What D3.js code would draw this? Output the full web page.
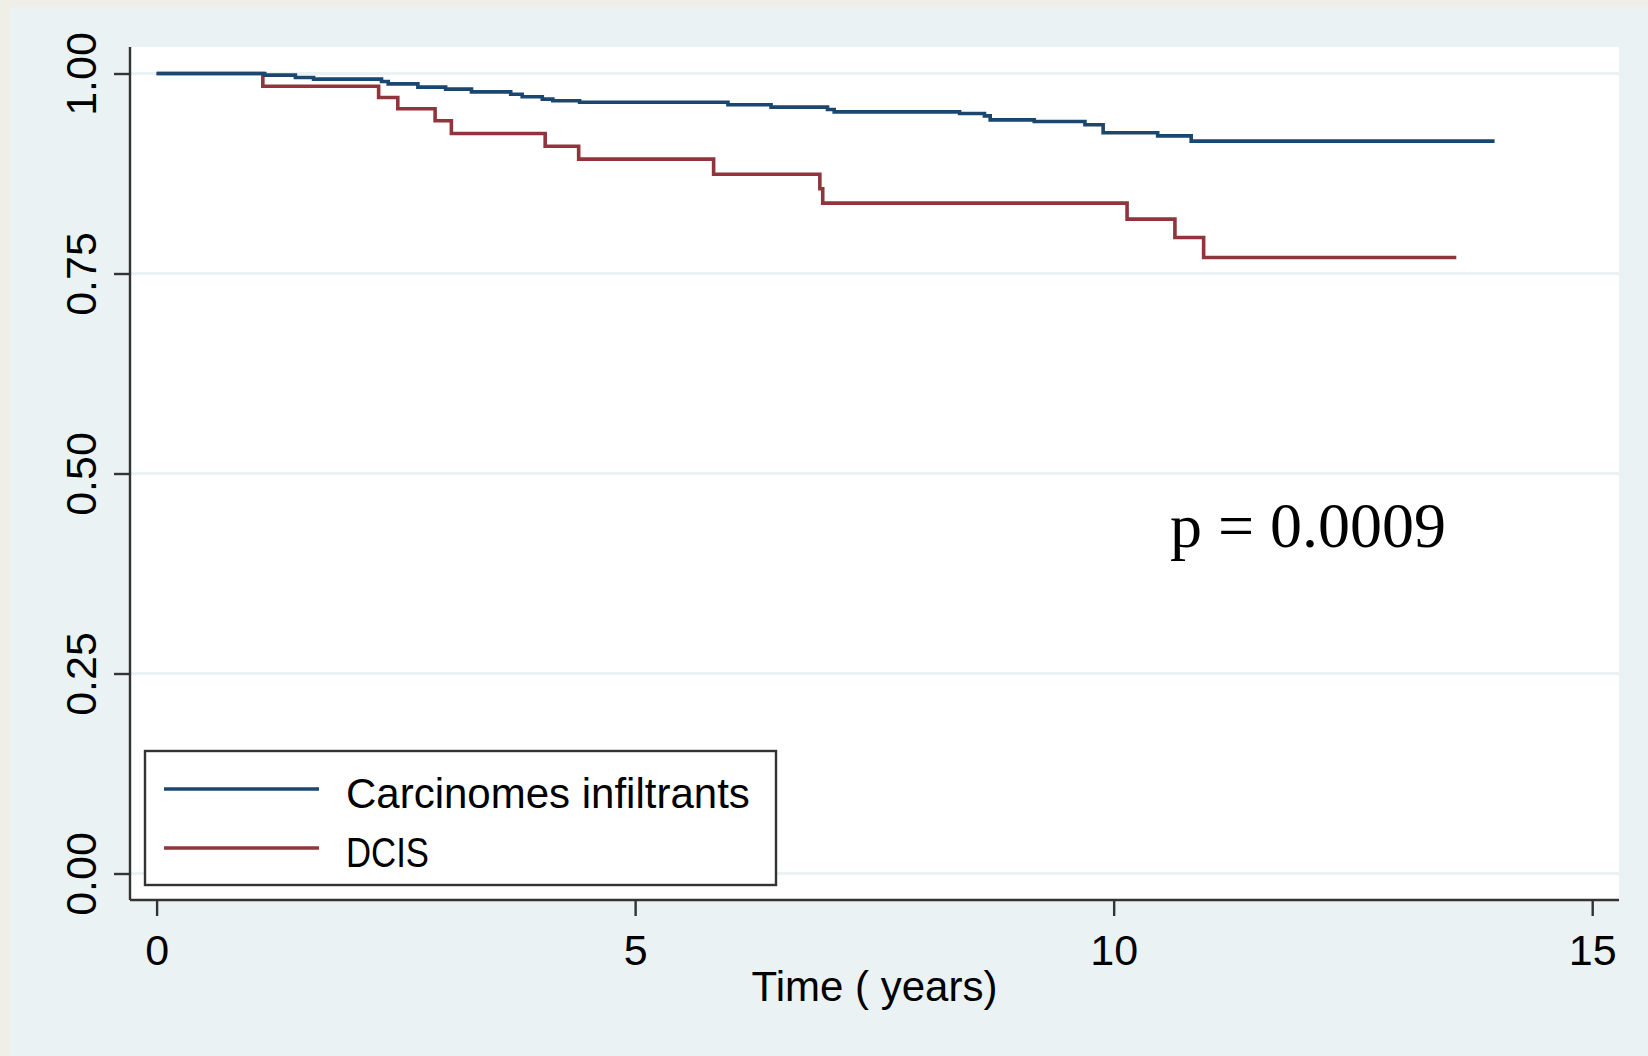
<!DOCTYPE html>
<html>
<head>
<meta charset="utf-8">
<script src="https://cdn.jsdelivr.net/npm/d3@7"></script>
<style>
  html, body { margin: 0; padding: 0; background: #efefe8; }
  svg { display: block; }
  text { font-family: "Liberation Sans", Arial, Helvetica, sans-serif; fill: #000; }
</style>
</head>
<body>
<script>
// Kaplan-Meier survival estimates, time in years
const infiltrantTimes = [0, 1.13, 1.45, 1.64, 2.35, 2.42, 2.73, 3.02, 3.29, 3.70, 3.82, 4.03, 4.14, 4.42,
  5.97, 6.42, 7.01, 7.08, 8.39, 8.65, 8.71, 9.17, 9.70, 9.89, 10.46, 10.81, 13.98];
const infiltrantSurv = [1, 0.998, 0.995, 0.993, 0.990, 0.987, 0.983, 0.9805, 0.977, 0.974, 0.971, 0.968, 0.966, 0.964,
  0.961, 0.958, 0.955, 0.952, 0.950, 0.947, 0.942, 0.940, 0.936, 0.926, 0.922, 0.9155, 0.9155];

const dcisTimes = [0, 1.11, 2.32, 2.52, 2.91, 3.08, 4.06, 4.41, 5.82, 6.93, 6.96, 10.14, 10.64, 10.94, 13.58];
const dcisSurv = [1, 0.984, 0.970, 0.956, 0.941, 0.925, 0.909, 0.893, 0.874, 0.856, 0.838, 0.818, 0.795, 0.770, 0.770];

const seriesNames = ["Carcinomes infiltrants", "DCIS"];
const seriesColors = ["#1a476f", "#90353b"];

const xTicks = [0, 5, 10, 15];
const yTicks = [0, 0.25, 0.5, 0.75, 1];
const xTitle = "Time ( years)";
const pLabel = "p = 0.0009";

const W = 1648, H = 1056;
const plot = { left: 130, right: 1619, top: 47, bottom: 900 };

const svg = d3.select("body").append("svg").attr("width", W).attr("height", H);

// graph region background
svg.append("rect").attr("x", 10).attr("y", 7).attr("width", W - 10).attr("height", H - 7).attr("fill", "#eaf2f3");
// plot region
svg.append("rect").attr("x", plot.left).attr("y", plot.top)
  .attr("width", plot.right - plot.left).attr("height", plot.bottom - plot.top).attr("fill", "#ffffff");

const x = d3.scaleLinear().domain([0, 15]).range([156.6, 1592.2]);
const y = d3.scaleLinear().domain([0, 1]).range([873.5, 73.5]);

// horizontal grid lines
svg.append("g").selectAll("line").data(yTicks).join("line")
  .attr("x1", plot.left).attr("x2", plot.right)
  .attr("y1", d => y(d)).attr("y2", d => y(d))
  .attr("stroke", "#eaf2f3").attr("stroke-width", 3);

// survival curves
const series = [
  { name: seriesNames[0], color: seriesColors[0], pts: infiltrantTimes.map((t, i) => [t, infiltrantSurv[i]]) },
  { name: seriesNames[1], color: seriesColors[1], pts: dcisTimes.map((t, i) => [t, dcisSurv[i]]) }
];
const line = d3.line().x(d => x(d[0])).y(d => y(d[1])).curve(d3.curveStepAfter);
svg.append("g").selectAll("path").data(series.slice().reverse()).join("path")
  .attr("d", d => line(d.pts)).attr("fill", "none")
  .attr("stroke", d => d.color).attr("stroke-width", 3.6).attr("stroke-linejoin", "miter");

// y axis
const yAxis = svg.append("g").attr("transform", `translate(${plot.left},0)`)
  .call(d3.axisLeft(y).tickValues(yTicks).tickSize(16).tickSizeOuter(0).tickFormat(d3.format(".2f")));
yAxis.select(".domain").attr("d", `M0,${plot.top}V${plot.bottom}`).attr("stroke", "#333").attr("stroke-width", 2.4);
yAxis.selectAll(".tick line").attr("stroke", "#333").attr("stroke-width", 2.4);
yAxis.selectAll(".tick text")
  .attr("x", null).attr("dy", null)
  .attr("transform", "translate(-34,0) rotate(-90)")
  .attr("text-anchor", "middle")
  .style("font-size", "43px").style("font-family", "Liberation Sans, Arial, sans-serif");

// x axis
const xAxis = svg.append("g").attr("transform", `translate(0,${plot.bottom})`)
  .call(d3.axisBottom(x).tickValues(xTicks).tickSize(16).tickSizeOuter(0).tickFormat(d3.format("d")));
xAxis.select(".domain").attr("d", `M${plot.left},0H${plot.right}`).attr("stroke", "#333").attr("stroke-width", 2.4);
xAxis.selectAll(".tick line").attr("stroke", "#333").attr("stroke-width", 2.4);
xAxis.selectAll(".tick text")
  .attr("y", 65).attr("dy", null)
  .style("font-size", "43px").style("font-family", "Liberation Sans, Arial, sans-serif");

// x axis title
svg.append("text").attr("x", (plot.left + plot.right) / 2).attr("y", 1001)
  .attr("text-anchor", "middle").style("font-size", "42px").text(xTitle);

// log-rank p-value
svg.append("text").attr("x", 1170).attr("y", 547)
  .style("font-family", "'Liberation Serif', 'Times New Roman', serif").style("font-size", "64px").text(pLabel);

// legend
const lg = svg.append("g");
lg.append("rect").attr("x", 145).attr("y", 751).attr("width", 631).attr("height", 134)
  .attr("fill", "#fff").attr("stroke", "#333").attr("stroke-width", 2.4);
const rows = lg.selectAll("g.row").data(series).join("g").attr("class", "row")
  .attr("transform", (d, i) => `translate(0,${789 + i * 59})`);
rows.append("line").attr("x1", 164).attr("x2", 319).attr("y1", 0).attr("y2", 0)
  .attr("stroke", d => d.color).attr("stroke-width", 3.6);
rows.append("text").attr("x", 346).attr("y", 19).style("font-size", "42px")
  .each(function (d) {
    const t = d3.select(this).text(d.name);
    // short all-caps label is set a little tighter
    if (d.name === "DCIS") t.attr("textLength", 83).attr("lengthAdjust", "spacingAndGlyphs");
  });
</script>
</body>
</html>
